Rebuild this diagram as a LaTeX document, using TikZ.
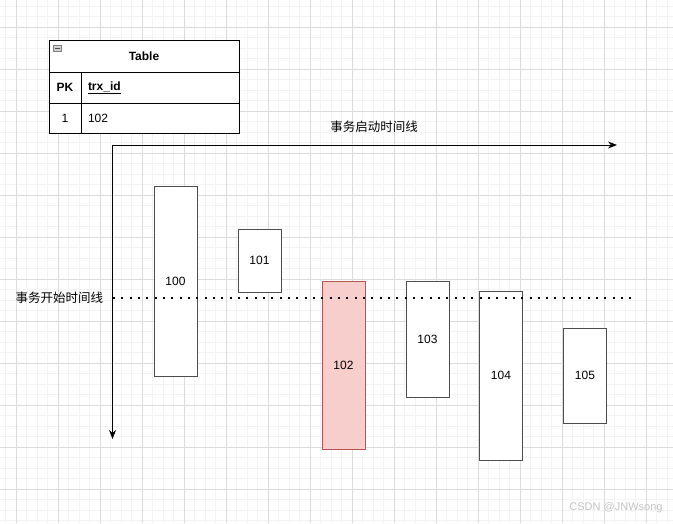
\documentclass[tikz,border=0pt]{standalone}
\usepackage{fontspec}
\setmainfont{Liberation Sans}
\newfontfamily\cjkfont{Noto Sans CJK SC}
\usetikzlibrary{positioning,arrows.meta}
\definecolor{gridminor}{HTML}{F3F3F3}
\definecolor{gridmajor}{HTML}{DCDCDC}
\definecolor{boxline}{HTML}{4D4D4D}
\definecolor{hotfill}{HTML}{F8CECC}
\definecolor{hotline}{HTML}{B85450}
\definecolor{marktext}{HTML}{C4C4C4}

\begin{document}
\begin{tikzpicture}[x=1pt, y=-1pt,
  font=\fontsize{12}{14}\selectfont,
  cell/.style={draw=black, line width=0.9pt, inner sep=0pt},
  namecell/.style={cell, text width=144, inner xsep=7, align=left},
  trx/.style={draw=boxline, line width=0.9pt, fill=white, minimum width=43, inner sep=0pt},
  hottrx/.style={trx, draw=hotline, fill=hotfill},
  axis/.style={draw=black, line width=0.9pt, -{Stealth[length=9pt,width=7pt]}},
  startline/.style={draw=black, line width=2pt, dash pattern=on 2pt off 6.33pt},
  label/.style={font=\cjkfont\fontsize{12.5}{14}\selectfont},
]
\useasboundingbox[fill=white] (0,0) rectangle (673,523);
\foreach \i in {0,...,64} { \draw[gridminor, line width=0.8pt] ({5.5+10.5*\i},0) -- ({5.5+10.5*\i},523); }
\foreach \i in {0,...,49} { \draw[gridminor, line width=0.8pt] (0,{6+10.5*\i}) -- (673,{6+10.5*\i}); }
\foreach \i in {0,...,15} { \draw[gridmajor, line width=0.8pt] ({16+42*\i},0) -- ({16+42*\i},523); }
\foreach \i in {0,...,11} { \draw[gridmajor, line width=0.8pt] (0,{27+42*\i}) -- (673,{27+42*\i}); }

\node[cell, fill=white, minimum width=190, minimum height=32] (tblhead) at (144,56) {\textbf{Table}};
\node[draw=gray, fill=gray!35, minimum width=8, minimum height=6, inner sep=0pt] (fold) at (57.5,48.5) {};
\draw[line width=1pt, gray!60!black] ([xshift=1.5]fold.west) -- ([xshift=-1.5]fold.east);
\node[cell, fill=white, minimum width=32, minimum height=31] (pkhead) at (65,87.5) {\textbf{PK}};
\node[namecell, fill=white, minimum height=31] (colhead) at (160,87.5) {\underline{\textbf{trx\_id}}};
\node[cell, fill=white, minimum width=32, minimum height=30] (pkval) at (65,118) {1};
\node[namecell, fill=white, minimum height=30] (colval) at (160,118) {102};

\node[trx, minimum height=190] (t100) at (175.5,281) {100};
\node[trx, minimum height=63] (t101) at (259.5,260.5) {101};
\node[hottrx, minimum height=168] (t102) at (343.5,365) {102};
\node[trx, minimum height=116] (t103) at (427.5,339) {103};
\node[trx, minimum height=169] (t104) at (501,375.5) {104};
\node[trx, minimum height=95] (t105) at (585,375.5) {105};

\coordinate (origin) at (112.5,145);
\coordinate (xend) at (617,145);
\coordinate (yend) at (112.5,439);
\draw[axis] (origin) -- (xend);
\draw[axis] (origin) -- (yend);
\node[label] (launch) at (374,127) {事务启动时间线};

\coordinate (startl) at (113,298);
\coordinate (startr) at (637,298);
\draw[startline] (startl) -- (startr);
\node[label] (begin) at (59.5,298) {事务开始时间线};

\node[text=marktext, font=\fontsize{11}{13}\selectfont] (mark) at (616,508) {CSDN @JNWsong};
\end{tikzpicture}
\end{document}
